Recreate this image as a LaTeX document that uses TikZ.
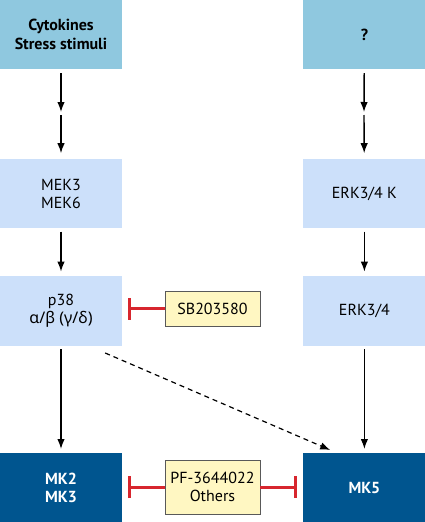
\documentclass[tikz,border=0pt]{standalone}
\usepackage{fontspec}
\setmainfont{PT Sans}
\newfontfamily\greekfont{Noto Sans}
\usetikzlibrary{positioning,arrows.meta}
\definecolor{topblue}{HTML}{8FC8DF}
\definecolor{midblue}{HTML}{CCE0FA}
\definecolor{darkblue}{HTML}{00558F}
\definecolor{drugyellow}{HTML}{FFF7C2}
\definecolor{inhred}{HTML}{D7262E}
\begin{document}
\begin{tikzpicture}[x=1pt, y=-1pt, font=\fontsize{16}{18.5}\selectfont,
  box/.style={minimum width=122pt, minimum height=69pt, inner sep=0pt, align=center},
  stimbox/.style={box, fill=topblue, font=\fontsize{16}{18.5}\selectfont\bfseries},
  kinbox/.style={box, fill=midblue},
  mkbox/.style={box, fill=darkblue, text=white, minimum height=70pt, font=\fontsize{16}{18}\selectfont\bfseries},
  drug/.style={draw=gray!70!black, fill=drugyellow, line width=0.8pt, minimum width=95pt, inner sep=0pt, align=center},
  act/.style={-{Latex[length=10pt,width=7.5pt]}, line width=1.4pt},
  inh/.style={-{Bar[width=22pt]}, draw=inhred, line width=3pt}]
\useasboundingbox (0,0) rectangle (425,522);
\node (CS) [stimbox] at (61,34.5) {Cytokines\\Stress stimuli};
\node (Q) [stimbox, right=181pt of CS] {?};
\node (MEK) [kinbox, below=90pt of CS] {MEK3\\MEK6};
\node (EK) [kinbox, below=90pt of Q] {ERK3/4 K};
\node (P38) [kinbox, minimum height=70pt, below=47pt of MEK] {p38\\{\greekfont α/β (γ/δ)}};
\node (ERK) [kinbox, minimum height=70pt, below=47pt of EK] {ERK3/4};
\node (MK23) [mkbox, below=107pt of P38] {MK2\\MK3};
\node (MK5) [mkbox, below=107pt of ERK] {MK5};
\node (SB) [drug, minimum height=35pt] at (212.5,308.5) {SB203580};
\node (PF) [drug, minimum height=54pt] at (212.5,487) {PF-3644022\\Others};
\coordinate (L1) at (61,113.5);
\coordinate (R1) at (364,113.5);
\draw[act, shorten <=4pt, shorten >=1.5pt] (CS) -- (L1);
\draw[act, shorten <=1.5pt, shorten >=6pt] (L1) -- (MEK);
\draw[act, shorten <=4pt, shorten >=1.5pt] (Q) -- (R1);
\draw[act, shorten <=1.5pt, shorten >=6pt] (R1) -- (EK);
\draw[act, shorten <=3pt, shorten >=4pt] (MEK) -- (P38);
\draw[act, shorten <=3pt, shorten >=4pt] (EK) -- (ERK);
\draw[act, shorten <=3pt, shorten >=4pt] (P38) -- (MK23);
\draw[act, shorten <=3pt, shorten >=4pt] (ERK) -- (MK5);
\draw[act, line width=1.2pt, dash pattern=on 5pt off 4pt] ([xshift=-17pt,yshift=-7pt]P38.south east) -- ([xshift=27pt,yshift=3pt]MK5.north west);
\draw[inh, shorten >=6pt] (SB) -- (P38.east |- SB.west);
\draw[inh, shorten >=6pt] (PF) -- (MK23.east |- PF.west);
\draw[inh, shorten >=6pt] (PF) -- (MK5.west |- PF.east);
\end{tikzpicture}
\end{document}
